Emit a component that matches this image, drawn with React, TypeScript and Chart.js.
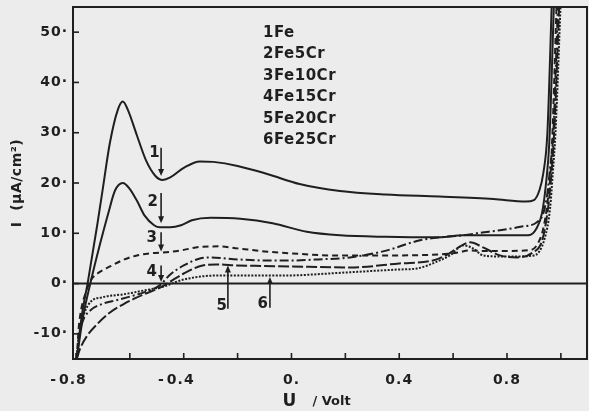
import React, { useEffect, useRef } from "react";
import { Chart, registerables } from "chart.js";

Chart.register(...registerables);

// ---- data (U in Volt, I in µA/cm²) ----
const seriesNames = ["1Fe", "2Fe5Cr", "3Fe10Cr", "4Fe15Cr", "5Fe20Cr", "6Fe25Cr"];

const feU = [-0.797, -0.78, -0.755, -0.72, -0.7, -0.674, -0.645, -0.626, -0.607, -0.574, -0.54, -0.505, -0.478, -0.45, -0.4, -0.34, -0.29, -0.2, -0.09, 0.03, 0.18, 0.35, 0.55, 0.75, 0.87, 0.9, 0.92, 0.935, 0.95, 0.967];
const feI = [-15, -7, 0.6, 12, 19, 28, 34.5, 36.2, 34.5, 29.5, 24.5, 21.4, 20.6, 21.1, 23, 24.3, 24.2, 23.4, 21.8, 19.8, 18.4, 17.7, 17.3, 16.8, 16.3, 16.6, 18.5, 22, 30, 57];

const fe5U = [-0.797, -0.775, -0.745, -0.71, -0.68, -0.655, -0.626, -0.6, -0.574, -0.545, -0.51, -0.488, -0.45, -0.41, -0.37, -0.3, -0.19, -0.07, 0.057, 0.18, 0.35, 0.55, 0.637, 0.75, 0.88, 0.91, 0.93, 0.945, 0.957, 0.975];
const fe5I = [-15, -7, 0.4, 8, 14, 18.5, 20, 18.8, 16.5, 13.5, 11.6, 11.2, 11.2, 11.6, 12.6, 13.1, 12.9, 12, 10.3, 9.6, 9.3, 9.2, 9.6, 9.6, 9.6, 11, 14, 20, 28, 57];

const fe10U = [-0.797, -0.79, -0.78, -0.765, -0.748, -0.72, -0.674, -0.62, -0.574, -0.525, -0.45, -0.4, -0.34, -0.27, -0.2, -0.1, 0.0, 0.15, 0.35, 0.55, 0.62, 0.66, 0.71, 0.8, 0.89, 0.915, 0.935, 0.95, 0.965, 0.985];
const fe10I = [-15, -9, -5, -2, 0.4, 2, 3.4, 4.8, 5.6, 6.0, 6.3, 6.7, 7.3, 7.4, 7.0, 6.4, 6.0, 5.6, 5.6, 5.8, 6.2, 6.6, 6.5, 6.5, 6.7, 8, 11, 16, 25, 57];

const fe15U = [-0.797, -0.79, -0.775, -0.748, -0.7, -0.65, -0.6, -0.55, -0.488, -0.45, -0.4, -0.34, -0.3, -0.2, -0.1, 0.0, 0.1, 0.217, 0.34, 0.477, 0.551, 0.637, 0.7, 0.774, 0.85, 0.911, 0.935, 0.95, 0.96, 0.972, 0.99];
const fe15I = [-15, -11, -7.5, -5.4, -4, -3.3, -2.6, -1.8, -0.3, 1.8, 3.6, 5, 5.2, 4.8, 4.6, 4.6, 4.8, 5.2, 6.4, 8.6, 9.2, 9.6, 10.1, 10.6, 11.3, 12.2, 14, 18, 23, 30, 57];

const fe20U = [-0.797, -0.785, -0.76, -0.72, -0.675, -0.62, -0.55, -0.488, -0.45, -0.4, -0.33, -0.28, -0.2, -0.1, 0.0, 0.217, 0.4, 0.525, 0.58, 0.614, 0.663, 0.711, 0.774, 0.837, 0.896, 0.93, 0.95, 0.962, 0.975, 0.995];
const fe20I = [-15, -13, -10.5, -8, -5.8, -4, -2.2, -0.8, 0.4, 2, 3.6, 3.8, 3.6, 3.5, 3.4, 3.2, 4.0, 4.6, 5.8, 7, 8.2, 7.2, 5.6, 5.2, 6.2, 8.5, 14, 20, 30, 57];

const fe25U = [-0.797, -0.785, -0.77, -0.745, -0.7, -0.62, -0.55, -0.462, -0.44, -0.4, -0.277, -0.2, -0.032, 0.2, 0.4, 0.466, 0.55, 0.588, 0.637, 0.674, 0.711, 0.77, 0.84, 0.9, 0.94, 0.96, 0.97, 0.98, 1.0];
const fe25I = [-15, -9, -6, -3.6, -2.7, -2.1, -1.4, -0.4, 0.1, 0.8, 1.6, 1.6, 1.6, 2.2, 2.8, 3.0, 4.6, 5.6, 7.6, 7.0, 5.6, 5.4, 5.4, 5.6, 9, 15, 22, 30, 57];

const seriesU = [feU, fe5U, fe10U, fe15U, fe20U, fe25U];
const seriesI = [feI, fe5I, fe10I, fe15I, fe20I, fe25I];
const seriesDash: number[][] = [[], [], [6, 4], [9, 3, 2, 3], [11, 3], [2, 1.5]];

// axis ticks
const xTickValues = [-0.8, -0.6, -0.4, -0.2, 0, 0.2, 0.4, 0.6, 0.8, 1.0];
const xTickLabels = ["-0.8", "", "-0.4", "", "0.", "", "0.4", "", "0.8", ""];
const yTickValues = [-10, 0, 10, 20, 30, 40, 50];
const yTickLabels = ["-10·", "0·", "10·", "20·", "30·", "40·", "50·"];

// arrow annotations: number label and arrow (U, from I, to I)
const arrowLabels = ["1", "2", "3", "4", "5", "6"];
const arrowU = [-0.484, -0.484, -0.484, -0.484, -0.236, -0.08];
const arrowFrom = [27, 18, 10.2, 3.6, -5, -4.8];
const arrowTo = [21.4, 12, 6.4, 0.3, 3.6, 1.3];
const labelU = [-0.508, -0.514, -0.518, -0.518, -0.258, -0.106];
const labelI = [26, 16.2, 9, 2.2, -4.4, -4];

const INK = "#1f1f1f";
const FONT = '"DejaVu Sans", "Noto Sans", sans-serif';

const decor = {
  id: "decor",
  beforeDatasetsDraw(chart: any) {
    const { ctx, chartArea: a, scales } = chart;
    const y0 = scales.y.getPixelForValue(0);
    ctx.save();
    ctx.strokeStyle = INK;
    ctx.lineWidth = 2;
    ctx.beginPath();
    ctx.moveTo(a.left, y0);
    ctx.lineTo(a.right, y0);
    ctx.stroke();
    ctx.restore();
  },
  afterDraw(chart: any) {
    const { ctx, chartArea: a, scales } = chart;
    const xs = scales.x;
    const ys = scales.y;
    ctx.save();
    ctx.strokeStyle = INK;
    ctx.fillStyle = INK;
    ctx.lineWidth = 2;
    ctx.strokeRect(a.left, a.top, a.right - a.left, a.bottom - a.top);

    // inward ticks
    ctx.lineWidth = 1.6;
    xTickValues.forEach((v) => {
      const px = xs.getPixelForValue(v);
      ctx.beginPath();
      ctx.moveTo(px, a.bottom);
      ctx.lineTo(px, a.bottom - 6);
      ctx.stroke();
    });
    yTickValues.forEach((v) => {
      const py = ys.getPixelForValue(v);
      ctx.beginPath();
      ctx.moveTo(a.left, py);
      ctx.lineTo(a.left + 6, py);
      ctx.stroke();
    });

    // tick labels
    ctx.font = `bold 14px ${FONT}`;
    (ctx as any).letterSpacing = "1px";
    ctx.textBaseline = "middle";
    xTickValues.forEach((v, i) => {
      const lab = xTickLabels[i];
      if (!lab) return;
      const px = xs.getPixelForValue(v);
      const y = a.bottom + 21;
      if (lab.startsWith("-")) {
        const body = lab.slice(1);
        const w = ctx.measureText(body).width;
        const cx = px - 3;
        ctx.textAlign = "center";
        ctx.fillText(body, cx, y);
        ctx.textAlign = "right";
        ctx.fillText("-", cx - w / 2 - 2, y);
      } else {
        ctx.textAlign = "center";
        ctx.fillText(lab, px, y);
      }
    });
    ctx.textAlign = "right";
    yTickValues.forEach((v, i) => {
      ctx.fillText(yTickLabels[i], a.left - 5, ys.getPixelForValue(v));
    });

    // axis titles
    ctx.font = `bold 17px ${FONT}`;
    (ctx as any).letterSpacing = "0px";
    ctx.textAlign = "center";
    ctx.fillText("U", xs.getPixelForValue(0) - 2, a.bottom + 43);
    ctx.font = `bold 13px ${FONT}`;
    ctx.textAlign = "left";
    ctx.fillText("/ Volt", xs.getPixelForValue(0) + 21, a.bottom + 43);

    ctx.save();
    ctx.translate(17, (a.top + a.bottom) / 2);
    ctx.rotate(-Math.PI / 2);
    ctx.textAlign = "center";
    ctx.font = `bold 14px ${FONT}`;
    (ctx as any).letterSpacing = "0.5px";
    ctx.fillText("I  (µA/cm²)", 0, 0);
    ctx.restore();

    // legend text
    ctx.font = `bold 15px ${FONT}`;
    (ctx as any).letterSpacing = "0.5px";
    ctx.textAlign = "left";
    seriesNames.forEach((n, i) => {
      ctx.fillText(n, a.left + 190, a.top + 26 + i * 21.5);
    });

    // arrows with numbers
    ctx.lineWidth = 1.6;
    arrowLabels.forEach((lab, i) => {
      const px = xs.getPixelForValue(arrowU[i]);
      const p1 = ys.getPixelForValue(arrowFrom[i]);
      const p2 = ys.getPixelForValue(arrowTo[i]);
      const dir = p2 > p1 ? 1 : -1;
      ctx.beginPath();
      ctx.moveTo(px, p1);
      ctx.lineTo(px, p2 - dir * 5);
      ctx.stroke();
      ctx.beginPath();
      ctx.moveTo(px, p2);
      ctx.lineTo(px - 3, p2 - dir * 7);
      ctx.lineTo(px + 3, p2 - dir * 7);
      ctx.closePath();
      ctx.fill();
      ctx.font = `bold 15px ${FONT}`;
      ctx.textAlign = "center";
      ctx.fillText(lab, xs.getPixelForValue(labelU[i]), ys.getPixelForValue(labelI[i]));
    });
    ctx.restore();
  },
};

export default function App() {
  const ref = useRef<HTMLCanvasElement | null>(null);
  useEffect(() => {
    if (!ref.current) return;
    const datasets = seriesNames.map((name, s) => ({
      label: name,
      data: seriesU[s].map((u, k) => ({ x: u, y: seriesI[s][k] })),
      borderColor: INK,
      borderWidth: 2,
      borderDash: seriesDash[s],
      pointRadius: 0,
      fill: false,
      cubicInterpolationMode: "monotone" as const,
      clip: 0,
    }));
    const chart = new Chart(ref.current, {
      type: "line",
      data: { datasets },
      plugins: [decor],
      options: {
        animation: false,
        responsive: false,
        layout: { padding: { top: 7, right: 2, left: 0, bottom: 0 } },
        plugins: { legend: { display: false }, tooltip: { enabled: false } },
        scales: {
          x: {
            type: "linear",
            min: -0.811,
            max: 1.097,
            grid: { display: false },
            border: { display: false },
            ticks: { display: false },
            afterFit: (s: any) => {
              s.height = 52;
            },
          },
          y: {
            type: "linear",
            min: -15,
            max: 55,
            grid: { display: false },
            border: { display: false },
            ticks: { display: false },
            afterFit: (s: any) => {
              s.width = 73;
            },
          },
        },
      },
    });
    return () => chart.destroy();
  }, []);
  return (
    <div style={{ position: "fixed", left: 0, top: 0, width: 589, height: 411, background: "#ececec" }}>
      <canvas ref={ref} width={589} height={411} style={{ display: "block" }} />
    </div>
  );
}
